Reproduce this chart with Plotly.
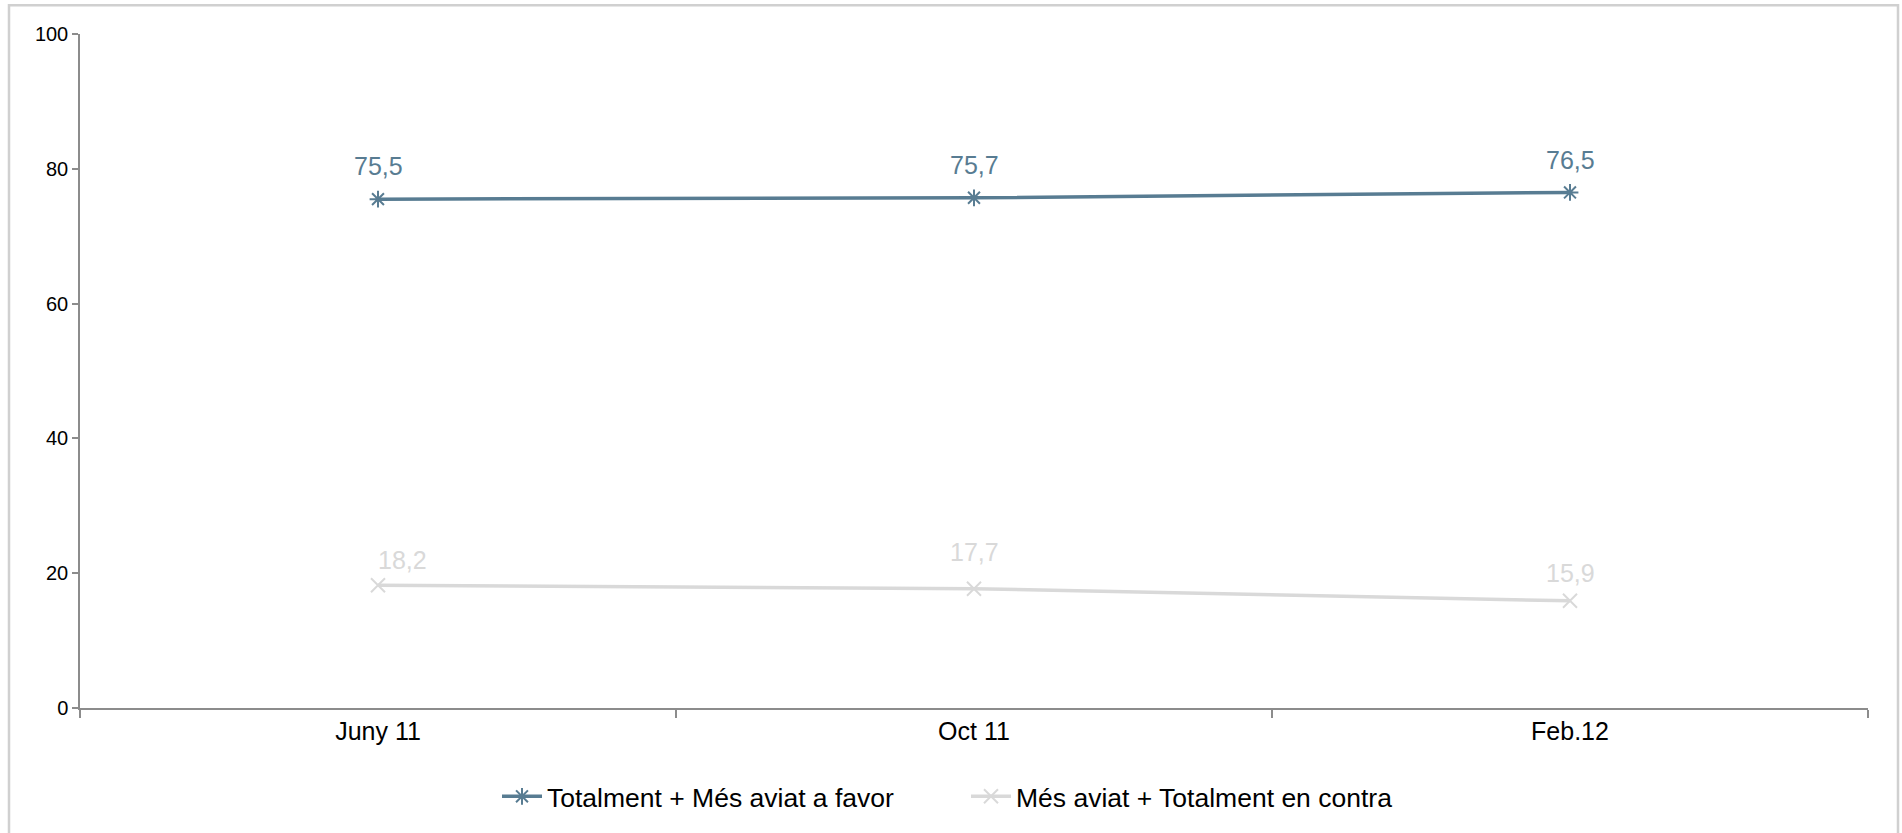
import plotly.graph_objects as go

# Survey waves and percentages
periods = ["Juny 11", "Oct 11", "Feb.12"]
favor = [75.5, 75.7, 76.5]
contra = [18.2, 17.7, 15.9]
favor_name = "Totalment + Més aviat a favor"
contra_name = "Més aviat + Totalment en contra"
y_ticks = [0, 20, 40, 60, 80, 100]

BLUE = "#587c92"
GREY = "#d9d9d9"
AXIS = "#8c8c8c"
FONT = "Liberation Sans, Arial, sans-serif"

W, H = 1902, 833
L, R, T, B = 80, 34, 34, 122


def fmt(v):
    return f"{v:.1f}".replace(".", ",")


fig = go.Figure()
fig.add_trace(go.Scatter(
    x=periods, y=favor, name=favor_name, mode="lines+markers",
    line=dict(color=BLUE, width=3.5),
    marker=dict(symbol="asterisk-open", size=14, color=BLUE,
                line=dict(color=BLUE, width=2)),
))
fig.add_trace(go.Scatter(
    x=periods, y=contra, name=contra_name, mode="lines+markers",
    line=dict(color=GREY, width=3.5),
    marker=dict(symbol="x-thin-open", size=14, color=GREY,
                line=dict(color=GREY, width=2)),
))

# Value labels above each point
fav_shift = [0, 0, 0]
con_shift = [24, 0, 0]
fav_y = [33, 33, 32]
con_y = [25, 37, 28]
for i, p in enumerate(periods):
    fig.add_annotation(x=p, y=favor[i], text=fmt(favor[i]), showarrow=False,
                       xshift=fav_shift[i], yshift=fav_y[i],
                       font=dict(size=25, color=BLUE, family=FONT))
    fig.add_annotation(x=p, y=contra[i], text=fmt(contra[i]), showarrow=False,
                       xshift=con_shift[i], yshift=con_y[i],
                       font=dict(size=25, color=GREY, family=FONT))

pw = W - L - R
ph = H - T - B


def px_x(v):
    return (v - L) / pw


def px_y(v):
    return (H - B - v) / ph


# Light frame around the chart area
fig.add_shape(type="path", xref="paper", yref="paper",
              path=f"M {px_x(9)} {px_y(900)} L {px_x(9)} {px_y(5)} "
                   f"L {px_x(1898)} {px_y(5)} L {px_x(1898)} {px_y(900)}",
              line=dict(color="#d0d0d0", width=2.5), layer="below")

fig.update_layout(
    width=W, height=H,
    margin=dict(l=L, r=R, t=T, b=B),
    paper_bgcolor="white", plot_bgcolor="white",
    font=dict(family=FONT, color="black"),
    showlegend=True,
    legend=dict(orientation="h", x=px_x(497), xanchor="left",
                y=px_y(800), yanchor="middle",
                font=dict(size=26.5, family=FONT, color="black"),
                itemwidth=40, tracegroupgap=0,
                entrywidth=414, entrywidthmode="pixels"),
    xaxis=dict(
        type="category", range=[-0.5, 2.5],
        showline=True, linecolor=AXIS, linewidth=1.5,
        ticks="outside", tickson="boundaries", ticklen=8,
        tickcolor=AXIS, tickwidth=1.5,
        showgrid=False, zeroline=False,
        tickfont=dict(size=25, family=FONT, color="black"),
    ),
    yaxis=dict(
        range=[0, 100], tickvals=y_ticks,
        showline=True, linecolor=AXIS, linewidth=1.5,
        ticks="outside", ticklen=6, tickcolor=AXIS, tickwidth=1.5,
        showgrid=False, zeroline=False,
        tickfont=dict(size=20, family=FONT, color="black"),
    ),
)

fig.write_html("out.html")
